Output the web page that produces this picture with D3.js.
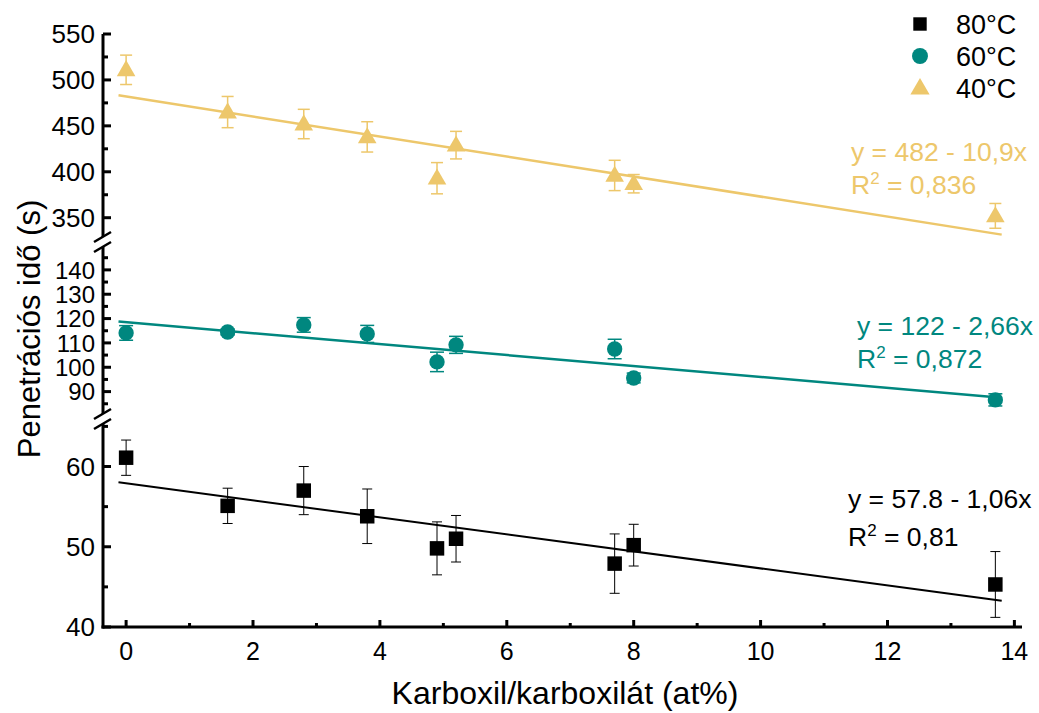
<!DOCTYPE html>
<html><head><meta charset="utf-8">
<script src="https://cdn.jsdelivr.net/npm/d3@7"></script>
<style>body{margin:0;background:#fff}svg{display:block}text{font-family:"Liberation Sans",Arial,sans-serif}</style>
</head><body><svg id="c" width="1039" height="713"></svg>
<script>
// ---- data ----
const xVals = [0, 1.6, 2.8, 3.8, 4.9, 5.2, 7.7, 8.0, 13.7];
const y80 = [61.1, 55.1, 57.0, 53.8, 49.8, 51.0, 47.9, 50.2, 45.3];
const e80 = [2.2, 2.2, 3.0, 3.4, 3.3, 2.9, 3.7, 2.6, 4.1];
const y60 = [114.1, 114.5, 117.4, 113.7, 102.2, 109.2, 107.5, 95.6, 86.6];
const e60 = [3.0, 1.2, 3.0, 3.5, 4.0, 3.5, 4.0, 2.0, 2.5];
const y40 = [511, 465, 452, 438, 393, 429, 396, 387, 352];
const e40 = [16, 17, 16, 16.5, 17, 15, 16.5, 10, 13.5];
const seriesNames = ["80°C", "60°C", "40°C"];
const fitCoef = [[57.9, -1.06], [118.5, -2.25], [482, -10.9]];
const fitRange = [-0.12, 13.8];
const eqText = [["y = 57.8 - 1,06x", "0,81"], ["y = 122 - 2,66x", "0,872"], ["y = 482 - 10,9x", "0,836"]];
const xTicks = [0, 2, 4, 6, 8, 10, 12, 14];
const xMinor = [1, 3, 5, 7, 9, 11, 13];
const segTicks = [[40, 50, 60], [90, 100, 110, 120, 130, 140], [350, 400, 450, 500, 550]];
const segMinor = [[45, 55, 65], [85, 95, 105, 115, 125, 135, 145], [375, 425, 475, 525]];
const segDomains = [[40, 65.3], [80.8, 149.4], [329, 550]];

// ---- layout ----
const colors = ["#000000", "#00877F", "#EDC76B"];
const segRanges = [[627, 424], [414, 247], [237, 34]];
const segFont = [26, 24, 26];
const axisX = 103;
const svg = d3.select("#c");
const x = d3.scaleLinear().domain([-0.38, 14.12]).range([102, 1022]);
const ys = segDomains.map((d, i) => d3.scaleLinear().domain(d).range(segRanges[i]));
const axisY = 627;

// fit lines
fitCoef.forEach((c, i) => {
  const f = v => c[0] + c[1] * v;
  svg.append("line")
    .attr("x1", x(fitRange[0])).attr("y1", ys[i](f(fitRange[0])))
    .attr("x2", x(fitRange[1])).attr("y2", ys[i](f(fitRange[1])))
    .attr("stroke", colors[i]).attr("stroke-width", i === 0 ? 2 : 2.5);
});

const data = [[y80, e80], [y60, e60], [y40, e40]];
const capW = [10, 14, 12];
const ebW = [1, 1.5, 1.5];
data.forEach(([yv, ev], i) => {
  const g = svg.append("g").attr("stroke", colors[i]).attr("stroke-width", ebW[i]).attr("fill", "none");
  xVals.forEach((xv, j) => {
    const px = x(xv), t = ys[i](yv[j] + ev[j]), b = ys[i](yv[j] - ev[j]);
    g.append("line").attr("x1", px).attr("x2", px).attr("y1", t).attr("y2", b);
    g.append("line").attr("x1", px - capW[i] / 2).attr("x2", px + capW[i] / 2).attr("y1", t).attr("y2", t);
    g.append("line").attr("x1", px - capW[i] / 2).attr("x2", px + capW[i] / 2).attr("y1", b).attr("y2", b);
  });
});

const sym = [d3.symbol().type(d3.symbolSquare).size(210),
             d3.symbol().type(d3.symbolCircle).size(185),
             d3.symbol().type(d3.symbolTriangle).size(150)];
data.forEach(([yv], i) => {
  svg.append("g").selectAll("path").data(xVals).join("path")
    .attr("d", sym[i]())
    .attr("transform", (d, j) => `translate(${x(d)},${ys[i](yv[j]) + (i === 2 ? 1 : 0)})`)
    .attr("fill", colors[i]);
});

// axes
const ax = svg.append("g");
ax.append("line").attr("x1", axisX - 1.5).attr("x2", x.range()[1]).attr("y1", axisY).attr("y2", axisY).attr("stroke", "#000").attr("stroke-width", 3);
xTicks.forEach(t => {
  ax.append("line").attr("x1", x(t)).attr("x2", x(t)).attr("y1", axisY).attr("y2", axisY - 7).attr("stroke", "#000").attr("stroke-width", 3);
  ax.append("text").attr("x", x(t)).attr("y", axisY + 33).attr("text-anchor", "middle").attr("font-size", 25).text(t);
});
xMinor.forEach(t => {
  ax.append("line").attr("x1", x(t)).attr("x2", x(t)).attr("y1", axisY).attr("y2", axisY - 4).attr("stroke", "#000").attr("stroke-width", 3);
});
ys.forEach((s, i) => {
  const r = segRanges[i];
  ax.append("line").attr("x1", axisX).attr("x2", axisX).attr("y1", r[0] + (i === 0 ? 1.5 : 0)).attr("y2", r[1]).attr("stroke", "#000").attr("stroke-width", 3);
  segTicks[i].forEach(t => {
    ax.append("line").attr("x1", axisX).attr("x2", axisX + 8).attr("y1", s(t)).attr("y2", s(t)).attr("stroke", "#000").attr("stroke-width", 3);
    ax.append("text").attr("x", axisX - 8).attr("y", s(t)).attr("dy", "0.36em").attr("text-anchor", "end").attr("font-size", segFont[i]).text(t);
  });
  segMinor[i].filter(t => t >= s.domain()[0] && t <= s.domain()[1]).forEach(t => {
    ax.append("line").attr("x1", axisX).attr("x2", axisX + 5).attr("y1", s(t)).attr("y2", s(t)).attr("stroke", "#000").attr("stroke-width", 3);
  });
});
// break marks
[segRanges[0][1], segRanges[1][0], segRanges[1][1], segRanges[2][0]].forEach(yb => {
  ax.append("line").attr("x1", axisX - 9).attr("x2", axisX + 8).attr("y1", yb + 5).attr("y2", yb - 5)
    .attr("stroke", "#000").attr("stroke-width", 2.5);
});

// axis titles
svg.append("text").attr("x", 565).attr("y", 704).attr("text-anchor", "middle").attr("font-size", 32).text("Karboxil/karboxilát (at%)");
svg.append("text").attr("transform", "translate(40,329) rotate(-90)").attr("text-anchor", "middle").attr("font-size", 31).text("Penetrációs idő (s)");

// legend
const legY = [24, 56, 88];
seriesNames.forEach((n, i) => {
  svg.append("path").attr("d", d3.symbol().type([d3.symbolSquare, d3.symbolCircle, d3.symbolTriangle][i]).size([180, 200, 160][i])())
    .attr("transform", `translate(920,${legY[i] + (i === 2 ? 1 : 0)})`).attr("fill", colors[i]);
  svg.append("text").attr("x", 956).attr("y", legY[i]).attr("dy", "0.36em").attr("font-size", 27).text(n);
});

// equations
const eqPos = [[848, 508, 38], [857, 335, 33], [851, 161, 33]];
eqText.forEach((e, i) => {
  const g = svg.append("g").attr("fill", colors[i]).attr("font-size", 26.5);
  g.append("text").attr("x", eqPos[i][0]).attr("y", eqPos[i][1]).text(e[0]);
  const t = g.append("text").attr("x", eqPos[i][0]).attr("y", eqPos[i][1] + eqPos[i][2]);
  t.append("tspan").text("R");
  t.append("tspan").attr("dy", -10).attr("font-size", 17).text("2");
  t.append("tspan").attr("dy", 10).text(" = " + e[1]);
});
</script></body></html>
